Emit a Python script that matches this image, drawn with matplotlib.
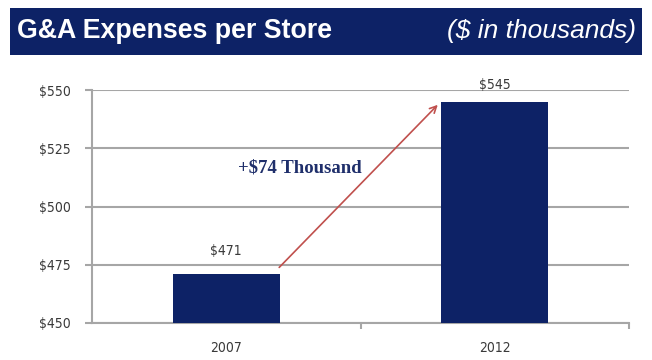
import matplotlib.pyplot as plt
from matplotlib.patches import Rectangle

years = ['2007', '2012']
expenses = [471, 545]
y_ticks = [450, 475, 500, 525, 550]
change_label = '+$74 Thousand'

navy = '#0d2266'
grid_gray = '#a6a6a6'
text_gray = '#3a3a3a'

fig = plt.figure(figsize=(6.52, 3.6), dpi=100)

# header banner
fig.patches.append(Rectangle((10 / 652, 1 - 55 / 360), 632 / 652, 47 / 360,
                             transform=fig.transFigure, facecolor=navy,
                             edgecolor='none', zorder=0))
fig.text(17 / 652, 1 - 31 / 360, 'G&A Expenses per Store', color='white',
         fontsize=19.3, fontweight='bold', family='Liberation Sans',
         va='center', ha='left')
fig.text(636 / 652, 1 - 31 / 360, '($ in thousands)', color='white',
         fontsize=19, style='italic', family='Liberation Sans',
         va='center', ha='right')

ax = fig.add_axes([92 / 652, 1 - 323 / 360, 537 / 652, 233 / 360])
x = range(len(years))
ax.bar(x, expenses, width=0.4, color=navy, zorder=3)
ax.set_xlim(-0.5, 1.5)
ax.set_ylim(450, 550)
ax.set_yticks(y_ticks)
ax.set_yticklabels(['$%d' % v for v in y_ticks])
ax.set_xticks(list(x))
ax.set_xticklabels(years)
# small marks between categories on the x axis
ax.set_xticks([0.5, 1.5], minor=True)
ax.grid(axis='y', color=grid_gray, linewidth=1.5, zorder=0)
for side in ['top', 'right']:
    ax.spines[side].set_visible(False)
for side in ['left', 'bottom']:
    ax.spines[side].set_color(grid_gray)
    ax.spines[side].set_linewidth(1.5)
ax.tick_params(axis='y', colors=grid_gray, length=5, width=1.5, pad=10,
               labelcolor=text_gray, labelsize=10)
ax.tick_params(axis='x', which='major', length=0, pad=13,
               labelcolor=text_gray, labelsize=10)
ax.tick_params(axis='x', which='minor', length=4, width=1.5, colors=grid_gray)
for lbl in ax.get_xticklabels() + ax.get_yticklabels():
    lbl.set_fontstretch('condensed')

# value labels on bars
for i, v in zip(x, expenses):
    ax.text(i, v + 7, '$%d' % v, ha='center', va='bottom' if i == 0 else 'center',
            fontsize=10, color=text_gray, fontstretch='condensed')

# arrow between the two bar tops
ax.annotate('', xy=(0.795, expenses[1] - 0.5), xytext=(0.19, expenses[0] + 2),
            arrowprops=dict(arrowstyle='->', color='#c0504d', lw=1.2,
                            mutation_scale=12), zorder=4)
ax.text(0.275, 516.5, change_label, ha='center', va='center', fontsize=13.5,
        fontweight='bold', family='Liberation Serif', color='#1f2f6b')

fig.savefig('out.png', dpi=100)
